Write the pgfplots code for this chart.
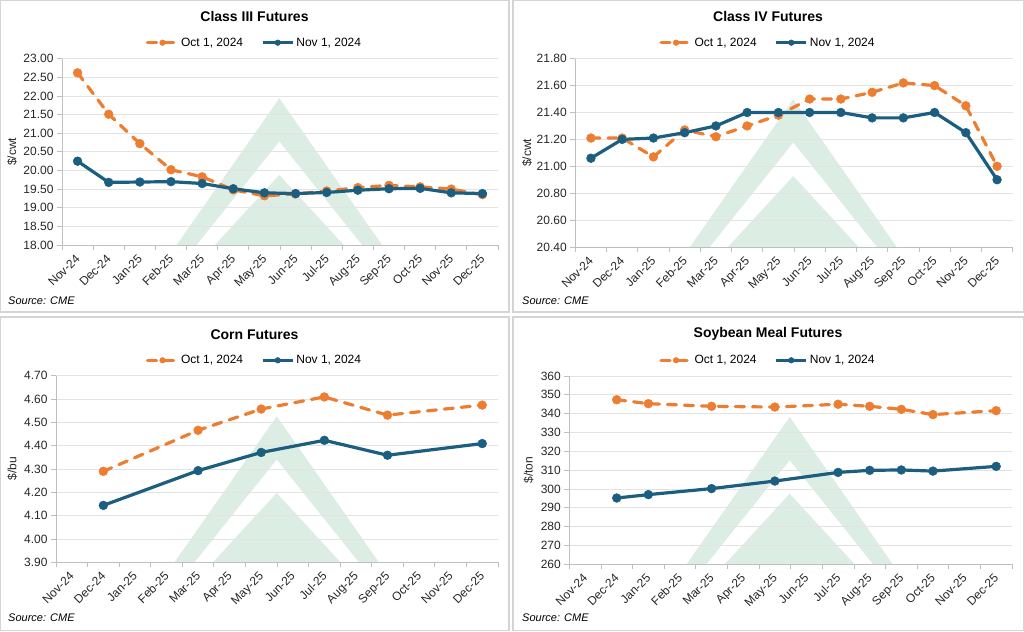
\documentclass[border=0pt]{standalone}
\usepackage{fontspec}
\setmainfont{Liberation Sans}
\usepackage{pgfplots}
\pgfplotsset{compat=1.18}

\definecolor{orng}{HTML}{ED7D31}
\definecolor{blu}{HTML}{1B5E80}
\definecolor{gridgray}{HTML}{E3E3E3}
\definecolor{axisgray}{HTML}{BFBFBF}
\definecolor{boxgray}{HTML}{D4D4D4}
\definecolor{wmgreen}{HTML}{DCEDE3}

% watermark: apex x, apex y, base y
\newcommand{\wm}[3]{%
  \pgfmathsetmacro{\wmh}{#2-#3}%
  \fill[wmgreen] (#1,#2) -- ({#1+0.70*\wmh},#3) -- ({#1-0.70*\wmh},#3) -- cycle;
  \fill[white] (#1,{#2-43.4}) -- ({#1+0.80*(\wmh-43.4)},#3) -- ({#1-0.80*(\wmh-43.4)},#3) -- cycle;
  \fill[wmgreen] (#1,{#2-76.7}) -- ({#1+0.92*(\wmh-76.7)},#3) -- ({#1-0.92*(\wmh-76.7)},#3) -- cycle;}

\newcommand{\tfont}{\fontsize{12}{14}\selectfont}

\pgfplotsset{
  futures/.style={
    anchor=south west, scale only axis,
    xmin=-0.5, xmax=13.5,
    axis lines*=left,
    axis line style={draw=axisgray, line width=0.8pt},
    tick align=outside,
    major tick length=5pt,
    tick style={draw=axisgray, line width=0.8pt},
    xtick={-0.5,0.5,...,13.5}, xticklabels={},
    extra x ticks={0,1,...,13},
    extra x tick labels={Nov-24,Dec-24,Jan-25,Feb-25,Mar-25,Apr-25,May-25,Jun-25,Jul-25,Aug-25,Sep-25,Oct-25,Nov-25,Dec-25},
    extra x tick style={major tick length=0pt},
    xticklabel style={xshift=-3pt, yshift=-7pt, rotate=45, anchor=north east, inner sep=1pt},
    tick label style={font=\tfont, color=black!85},
    /pgf/number format/assume math mode=true,
    ymajorgrids, major grid style={draw=gridgray, line width=0.8pt},
    clip=false,
    legend columns=2,
    legend style={anchor=center, draw=none, fill=none, font=\tfont, inner sep=0pt,
      /tikz/every even column/.append style={column sep=16pt}},
    legend image code/.code={\draw[mark repeat=2, mark phase=2, mark size=2.8pt]
      plot coordinates {(0pt,0pt) (15pt,0pt) (30pt,0pt)};},
  },
  oct/.style={color=orng, line width=3.2pt, dash pattern=on 9pt off 8pt, line cap=round,
    mark=*, mark size=4.4pt, mark options={solid, line width=0.5pt}},
  nov/.style={color=blu, line width=3.2pt, solid,
    mark=*, mark size=4.4pt, mark options={solid, line width=0.5pt}},
  dec2/.style={yticklabel style={/pgf/number format/fixed, /pgf/number format/fixed zerofill,
    /pgf/number format/precision=2}},
}

\begin{document}
\begin{tikzpicture}[x=1pt,y=1pt]
\useasboundingbox (0,0) rectangle (1024,631);
% panel frames
\draw[boxgray, line width=1.2pt] (0.6,319) rectangle (509,630.4);
\draw[boxgray, line width=1.2pt] (513,319) rectangle (1023.4,630.4);
\draw[boxgray, line width=1.2pt] (0.6,0.6) rectangle (509,314);
\draw[boxgray, line width=1.2pt] (513,0.6) rectangle (1023.4,314);

% watermarks
\wm{279.3}{532.7}{386}
\wm{793.3}{531.7}{384}
\wm{276.7}{214.7}{68.7}
\wm{789.7}{214}{66.7}

% titles, axis labels, source
\node[font=\bfseries\fontsize{14}{16}\selectfont] at (254.5,614.3) {Class III Futures};
\node[font=\bfseries\fontsize{14}{16}\selectfont] at (768,614.3) {Class IV Futures};
\node[font=\bfseries\fontsize{14}{16}\selectfont] at (254.5,296.7) {Corn Futures};
\node[font=\bfseries\fontsize{14}{16}\selectfont] at (768,296.7) {Soybean Meal Futures};
\node[font=\tfont, rotate=90, color=black!85] at (12,479) {\$/cwt};
\node[font=\tfont, rotate=90, color=black!85] at (527,478.3) {\$/cwt};
\node[font=\tfont, rotate=90, color=black!85] at (12.3,162.3) {\$/bu};
\node[font=\tfont, rotate=90, color=black!85] at (528.7,160.7) {\$/ton};
\node[font=\itshape\fontsize{11}{13}\selectfont, anchor=west, inner sep=0pt] at (8,330) {Source: CME};
\node[font=\itshape\fontsize{11}{13}\selectfont, anchor=west, inner sep=0pt] at (522,330) {Source: CME};
\node[font=\itshape\fontsize{11}{13}\selectfont, anchor=west, inner sep=0pt] at (8,13) {Source: CME};
\node[font=\itshape\fontsize{11}{13}\selectfont, anchor=west, inner sep=0pt] at (522,13) {Source: CME};

% Class III
\begin{axis}[futures, dec2, at={(62pt,386pt)}, width=436pt, height=186.3pt,
  ymin=18, ymax=23, ytick={18,18.5,19,19.5,20,20.5,21,21.5,22,22.5,23},
  legend style={at={(0.4415,1.0859)}}]
\addplot[oct] coordinates {(0,22.62) (1,21.51) (2,20.72) (3,20.02) (4,19.83) (5,19.48) (6,19.32)
  (7,19.37) (8,19.45) (9,19.54) (10,19.60) (11,19.56) (12,19.50) (13,19.35)};
\addplot[nov] coordinates {(0,20.25) (1,19.68) (2,19.69) (3,19.70) (4,19.65) (5,19.51) (6,19.40)
  (7,19.38) (8,19.41) (9,19.47) (10,19.51) (11,19.52) (12,19.40) (13,19.38)};
\legend{{Oct 1, 2024},{Nov 1, 2024}}
\end{axis}

% Class IV
\begin{axis}[futures, dec2, at={(575.3pt,384pt)}, width=437.4pt, height=188.3pt,
  ymin=20.4, ymax=21.8, ytick={20.4,20.6,20.8,21.0,21.2,21.4,21.6,21.8},
  legend style={at={(0.4406,1.085)}}]
\addplot[oct] coordinates {(0,21.21) (1,21.21) (2,21.07) (3,21.27) (4,21.22) (5,21.30) (6,21.38)
  (7,21.50) (8,21.50) (9,21.55) (10,21.62) (11,21.60) (12,21.45) (13,21.00)};
\addplot[nov] coordinates {(0,21.06) (1,21.20) (2,21.21) (3,21.25) (4,21.30) (5,21.40) (6,21.40)
  (7,21.40) (8,21.40) (9,21.36) (10,21.36) (11,21.40) (12,21.25) (13,20.90)};
\legend{{Oct 1, 2024},{Nov 1, 2024}}
\end{axis}

% Corn
\begin{axis}[futures, dec2, at={(56pt,68.7pt)}, width=442pt, height=186.6pt,
  ymin=3.9, ymax=4.7, ytick={3.9,4.0,4.1,4.2,4.3,4.4,4.5,4.6,4.7},
  legend style={at={(0.4491,1.0825)}}]
\addplot[oct] coordinates {(1,4.290) (4,4.466) (6,4.557) (8,4.609) (10,4.531) (13,4.574)};
\addplot[nov] coordinates {(1,4.144) (4,4.293) (6,4.371) (8,4.423) (10,4.359) (13,4.409)};
\legend{{Oct 1, 2024},{Nov 1, 2024}}
\end{axis}

% Soybean meal
\begin{axis}[futures, at={(569.3pt,66.7pt)}, width=442.7pt, height=188.3pt,
  ymin=260, ymax=360, ytick={260,270,...,360},
  legend style={at={(0.4488,1.0834)}}]
\addplot[oct] coordinates {(1,347.4) (2,345.3) (4,343.9) (6,343.5) (8,345.0) (9,343.9)
  (10,342.3) (11,339.5) (13,341.6)};
\addplot[nov] coordinates {(1,295.2) (2,297.0) (4,300.2) (6,304.2) (8,308.8) (9,309.9)
  (10,310.1) (11,309.5) (13,312.0)};
\legend{{Oct 1, 2024},{Nov 1, 2024}}
\end{axis}
\end{tikzpicture}
\end{document}
